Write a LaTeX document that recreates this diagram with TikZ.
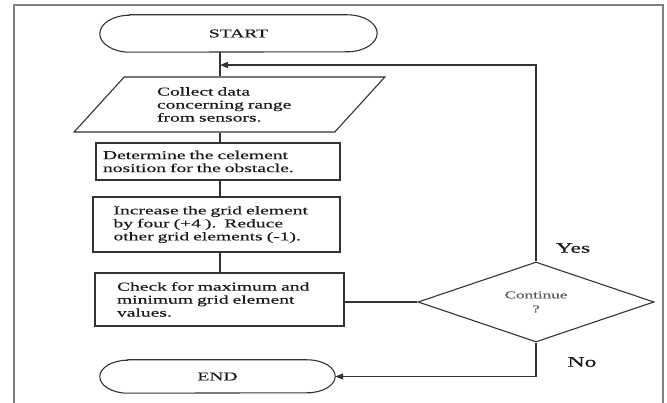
\documentclass[tikz,border=0pt]{standalone}
\usepackage{fontspec}
\setmainfont{Liberation Serif}[FakeStretch=1.63, FakeBold=0.3]
\usepackage{tikz}
\usetikzlibrary{shapes,arrows,positioning,calc,arrows.meta}

\begin{document}
\begin{tikzpicture}[x=1pt, y=-1pt,
    line/.style={draw=black!80, line width=1.1pt},
    box/.style={line, rectangle, inner sep=0pt, align=left, text=black!90,
        font=\fontsize{12}{13}\selectfont},
    terminal/.style={inner sep=0pt, minimum height=37pt, text=black!90,
        font=\fontsize{12}{13}\selectfont},
    frame/.style={draw=black!50, line width=1.5pt},
    tip/.style={-{Triangle[length=8pt, width=6pt]}}]
    \useasboundingbox (0,0) rectangle (667,403);

    % Frame
    \draw[frame] (14,403) -- (14,5) -- (663,5) -- (663,403);

    % Terminals
    \node[terminal, minimum width=277pt] (start) at (238.5,33.5) {START};
    \node[terminal, minimum width=235pt, minimum height=33pt] (finish) at (217.5,376.5) {END};
    \draw[line] ([xshift=30pt]start.north west) -- ([xshift=-30pt]start.north east)
        arc[start angle=90, end angle=-90, x radius=30pt, y radius=18.5pt]
        -- ([xshift=30pt]start.south west)
        arc[start angle=270, end angle=90, x radius=30pt, y radius=18.5pt] -- cycle;
    \draw[line] ([xshift=28pt]finish.north west) -- ([xshift=-28pt]finish.north east)
        arc[start angle=90, end angle=-90, x radius=28pt, y radius=16.5pt]
        -- ([xshift=28pt]finish.south west)
        arc[start angle=270, end angle=90, x radius=28pt, y radius=16.5pt] -- cycle;

    % Steps
    \node[box, trapezium, trapezium left angle=45, trapezium right angle=135,
        trapezium stretches=true, minimum width=311pt, minimum height=55pt,
        text width=145pt] (collect) at (229.5,104.5)
        {Collect data\\concerning range\\from sensors.};
    \node[box, minimum width=244pt, minimum height=37pt, text width=230pt] (locate) at (218,161.5)
        {Determine the celement\\nosition for the obstacle.};
    \node[box, minimum width=247pt, minimum height=55pt, text width=206pt] (update) at (216.5,224.5)
        {Increase the grid element\\by four (+4 ).\ \ Reduce\\other grid elements (-1).};
    \node[box, minimum width=249pt, minimum height=53pt, text width=205pt] (check) at (219.5,299.5)
        {Check for maximum and\\minimum grid element\\values.};

    % Decision
    \node[line, diamond, aspect=2.95, minimum width=236pt, minimum height=80pt, inner sep=0pt,
        align=center, text=black!65, font=\fontsize{10.5}{12}\selectfont] (cont) at (536,302)
        {Continue\\[2pt]?};
    \node[font=\fontsize{14.5}{16}\selectfont, text=black!90] (yes) at (573,248) {Yes};
    \node[font=\fontsize{14.5}{16}\selectfont, text=black!90] (no) at (582,362) {No};

    % Connectors
    \coordinate (spine) at (220,65);
    \draw[line] (start.south -| spine) -- (collect.north -| spine);
    \draw[line] (collect.south -| spine) -- (locate.north -| spine);
    \draw[line] (locate.south -| spine) -- (update.north -| spine);
    \draw[line] (update.south -| spine) -- (check.north -| spine);
    \draw[line] (cont.west) -- (cont.west -| check.east);
    \draw[line, tip] (cont.north) |- (spine);
    \draw[line, tip] (cont.south) |- (finish.east);

\end{tikzpicture}
\end{document}
